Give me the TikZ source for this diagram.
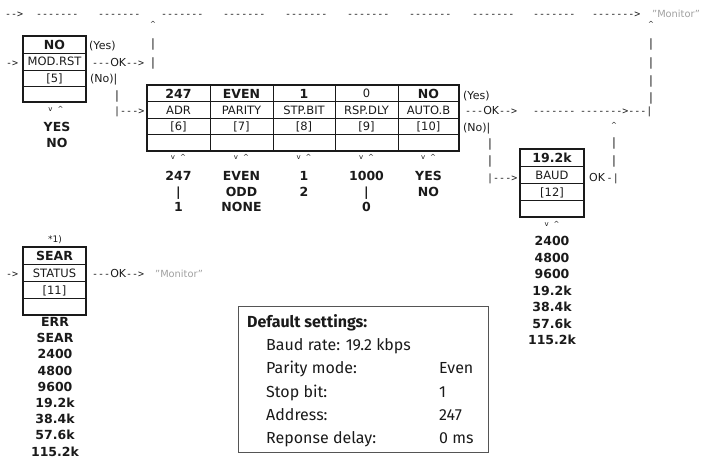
\documentclass[tikz,border=0pt]{standalone}
\usepackage{fontspec}
\setmainfont{DejaVu Sans}
\newfontfamily\pixdash{DejaVu Sans Mono}
\newfontfamily\pixsans{DejaVu Sans}
\newfontfamily\setfont{Fira Sans}
\definecolor{ink}{HTML}{1A1A1A}
\definecolor{mongray}{HTML}{A0A0A0}
\definecolor{framegray}{HTML}{555555}
\tikzset{
  lbl/.style={font=\fontsize{11.5}{12}\selectfont, inner sep=0pt, text=ink, text height=8.4pt, text depth=0pt},
  val/.style={font=\fontsize{12.5}{13}\selectfont\bfseries, inner sep=0pt, text=ink, text height=9pt, text depth=0pt},
  asc/.style={font=\pixdash\fontsize{10}{12}\selectfont, inner sep=0pt, text=ink, anchor=west, text height=8pt, text depth=0pt},
  par/.style={font=\fontsize{11}{12}\selectfont, inner sep=0pt, text=ink, anchor=west, text height=8.4pt, text depth=0pt},
  mon/.style={font=\fontsize{9.8}{12}\selectfont, inner sep=0pt, text=mongray, anchor=west, text height=8pt, text depth=0pt},
  arr/.style={font=\fontsize{7}{8}\selectfont, inner sep=0pt, text=ink},
  outerframe/.style={draw=ink, line width=2.4pt},
  innerline/.style={draw=ink, line width=0.9pt},
  setbox/.style={draw=framegray, line width=1pt},
  settxt/.style={font=\setfont\fontsize{16}{18}\selectfont, inner sep=0pt, anchor=base west, text=ink},
  settitle/.style={font=\setfont\fontsize{16}{18}\selectfont\bfseries, inner sep=0pt, anchor=base west, text=ink},
}
\newcommand{\vup}{v\hspace{5pt}\textasciicircum}
\newcommand{\okw}{{\pixsans\fontsize{11}{12}\selectfont OK}}
\begin{document}
\begin{tikzpicture}[x=1pt,y=-1pt]
\useasboundingbox (0,0) rectangle (701,459);

% ---------------- top line ----------------
\node[asc] (t0) at (5,13) {-{}->};
\foreach \xx [count=\i] in {36,98,161,223,285,347,409,472,533}
  \node[asc] (t\i) at (\xx,13) {-{}-{}-{}-{}-{}-{}-};
\node[asc] (t10) at (592,13) {-{}-{}-{}-{}-{}-{}->};
\node[mon] (tmon) at (652,13) {"Monitor"};

% vertical at x=153
\node[arr] (ca) at (153,24) {\textasciicircum};
\node[lbl] (cb1) at (153,43) {|};
\node[lbl] (cb2) at (153,62) {|};

% vertical at x=651
\node[arr] (ra) at (651,24) {\textasciicircum};
\foreach \yy [count=\i] in {43,62,80,97}
  \node[lbl] (rb\i) at (651,\yy) {|};

% ---------------- MOD.RST box ----------------
\draw[innerline] (23,53) -- (86,53) (23,70) -- (86,70) (23,86) -- (86,86);
\draw[outerframe] (23,36) rectangle (86,102);
\node[val] (m1) at (54.5,44.5) {NO};
\node[lbl] (m2) at (54.5,61.5) {MOD.RST};
\node[lbl] (m3) at (54.5,78) {[5]};
\node[asc] (min) at (6,62) {->};
\node[par] (myes) at (89,45) {(Yes)};
\node[asc] (mok) at (92,62) {-{}-{}-\okw-{}->};
\node[par] (mno) at (90,78) {(No)|};
\node[lbl] (mbar) at (117,95) {|};
\node[asc] (marr) at (114,110) {|-{}-{}->};
\node[arr] (mva) at (56,109) {\vup};
\node[val] (mv1) at (57,127) {YES};
\node[val] (mv2) at (57,143) {NO};

% ---------------- main box ----------------
\draw[innerline] (147,101.5) -- (459,101.5) (147,118) -- (459,118) (147,134.5) -- (459,134.5);
\foreach \xx in {210,273,335,398}
  \draw[innerline] (\xx,85) -- (\xx,151);
\draw[outerframe] (147,85) rectangle (459,151);

\node[val] (a1) at (178.5,93.5) {247};
\node[lbl] (a2) at (178.5,110) {ADR};
\node[lbl] (a3) at (178.5,126.5) {[6]};
\node[val] (b1) at (241.5,93.5) {EVEN};
\node[lbl] (b2) at (241.5,110) {PARITY};
\node[lbl] (b3) at (241.5,126.5) {[7]};
\node[val] (c1) at (304,93.5) {1};
\node[lbl] (c2) at (304,110) {STP.BIT};
\node[lbl] (c3) at (304,126.5) {[8]};
\node[lbl] (d1) at (366.5,93.5) {0};
\node[lbl] (d2) at (366.5,110) {RSP.DLY};
\node[lbl] (d3) at (366.5,126.5) {[9]};
\node[val] (e1) at (428.5,93.5) {NO};
\node[lbl] (e2) at (428.5,110) {AUTO.B};
\node[lbl] (e3) at (428.5,126.5) {[10]};

\foreach \xx/\nm in {178.5/a,241.5/b,304/c,366.5/d,428.5/e}
  \node[arr] (\nm va) at (\xx,157) {\vup};

\node[val] (av1) at (178.5,176) {247};
\node[val] (av2) at (178.5,192) {|};
\node[val] (av3) at (178.5,207) {1};
\node[val] (bv1) at (241.5,176) {EVEN};
\node[val] (bv2) at (241.5,192) {ODD};
\node[val] (bv3) at (241.5,207) {NONE};
\node[val] (cv1) at (304,176) {1};
\node[val] (cv2) at (304,192) {2};
\node[val] (dv1) at (366.5,176) {1000};
\node[val] (dv2) at (366.5,192) {|};
\node[val] (dv3) at (366.5,207) {0};
\node[val] (ev1) at (428.5,176) {YES};
\node[val] (ev2) at (428.5,192) {NO};

% right of AUTO.B
\node[par] (eyes) at (463,95) {(Yes)};
\node[asc] (eok) at (465,110) {-{}-{}-\okw-{}->};
\node[asc] (ed1) at (533,110) {-{}-{}-{}-{}-{}-{}-};
\node[asc] (ed2) at (580,110) {-{}-{}-{}-{}-{}-{}->-{}-{}-|};
\node[par] (eno) at (463,127) {(No)|};
\node[lbl] (ebar1) at (490,143) {|};
\node[lbl] (ebar2) at (490,160) {|};
\node[asc] (earr) at (487,177) {|-{}-{}->};

% return path at x=614
\node[arr] (fa) at (614,125) {\textasciicircum};
\node[lbl] (fb1) at (614,142) {|};
\node[lbl] (fb2) at (614,160) {|};
\node[asc] (fok) at (589,177) {\okw\,-|};

% ---------------- BAUD box ----------------
\draw[innerline] (520,166.5) -- (584,166.5) (520,183.5) -- (584,183.5) (520,200) -- (584,200);
\draw[outerframe] (520,149) rectangle (584,217);
\node[val] (g1) at (552,158) {19.2k};
\node[lbl] (g2) at (552,175) {BAUD};
\node[lbl] (g3) at (552,192) {[12]};
\node[arr] (gva) at (552,224) {\vup};
\foreach \vv [count=\i] in {2400,4800,9600,19.2k,38.4k,57.6k,115.2k}
  \node[val] (gv\i) at (552,{241+16.5*(\i-1)}) {\vv};

% ---------------- SEAR box ----------------
\node[par, anchor=center, font=\fontsize{9}{10}\selectfont] (star) at (55,238) {*1)};
\draw[innerline] (23,264) -- (86,264) (23,281) -- (86,281) (23,298) -- (86,298);
\draw[outerframe] (23,247) rectangle (86,315);
\node[val] (s1) at (54.5,256) {SEAR};
\node[lbl] (s2) at (54.5,273) {STATUS};
\node[lbl] (s3) at (54.5,290) {[11]};
\node[asc] (sin) at (6,273) {->};
\node[asc] (sok) at (92,273) {-{}-{}-\okw-{}->};
\node[mon] (smon) at (155,273) {"Monitor"};
\foreach \vv [count=\i] in {ERR,SEAR,2400,4800,9600,19.2k,38.4k,57.6k,115.2k}
  \node[val] (sv\i) at (55,{322+16.2*(\i-1)}) {\vv};

% ---------------- default settings ----------------
\draw[setbox] (238,306) rectangle (488,452);
\node[settitle] (ds0) at (247,327.5) {Default settings:};
\node[settxt] (ds1) at (266,350.7) {Baud rate: 19.2 kbps};
\node[settxt] (ds2) at (266,373.9) {Parity mode:};
\node[settxt] (dv2) at (439,373.9) {Even};
\node[settxt] (ds3) at (266,397.1) {Stop bit:};
\node[settxt] (dv3) at (439,397.1) {1};
\node[settxt] (ds4) at (266,420.3) {Address:};
\node[settxt] (dv4) at (439,420.3) {247};
\node[settxt] (ds5) at (266,443.5) {Reponse delay:};
\node[settxt] (dv5) at (439,443.5) {0 ms};
\end{tikzpicture}
\end{document}
